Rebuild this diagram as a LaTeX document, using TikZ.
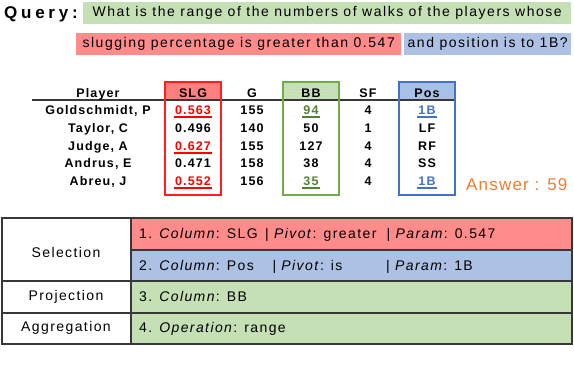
\documentclass[tikz,border=0pt]{standalone}
\usepackage{fontspec}
\usetikzlibrary{patterns}
\setmainfont{Liberation Sans}
\newfontfamily\qfont[LetterSpace=11]{Liberation Sans}
\newfontfamily\lfont[LetterSpace=22]{Liberation Sans}
\newfontfamily\tfont[LetterSpace=9]{Liberation Sans}
\newfontfamily\bfont[LetterSpace=10]{Liberation Sans}
\newfontfamily\afont[LetterSpace=7]{Liberation Sans}
\definecolor{qgreen}{HTML}{C5E0B4}
\definecolor{qred}{HTML}{FF8B8B}
\definecolor{qblue}{HTML}{ADC1E5}
\definecolor{slgred}{HTML}{FF1F1F}
\definecolor{slghead}{HTML}{FF7F7F}
\definecolor{bbgreen}{HTML}{70AD47}
\definecolor{posblue}{HTML}{4472C4}
\definecolor{poshead}{HTML}{A9C0E6}
\definecolor{valred}{HTML}{FF0000}
\definecolor{valgreen}{HTML}{548235}
\definecolor{ansorange}{HTML}{ED7D31}
\definecolor{gridgray}{HTML}{383838}
\begin{document}
\begin{tikzpicture}[x=1pt,y=-1pt,
  qbox/.style={minimum height=22, inner sep=0, font=\qfont\fontsize{14}{16}\selectfont},
  tcell/.style={anchor=base, inner sep=0, font=\tfont\bfseries\fontsize{12.5}{14}\selectfont},
  colbox/.style={line width=2.8},
  ul/.style={line width=1.5},
  lcell/.style={anchor=base, inner sep=0, font=\bfont\fontsize{14}{16}\selectfont},
  rcell/.style={anchor=base west, inner sep=0, font=\bfont\fontsize{14}{16}\selectfont},
  grid/.style={draw=gridgray, line width=1.3}]
\useasboundingbox (0,0) rectangle (574,380);
% query
\node[anchor=base west, inner sep=0, font=\lfont\bfseries\fontsize{17}{19}\selectfont] (qlabel) at (4,18) {Query:};
\node[qbox, fill=qgreen, minimum width=488, anchor=west] (q1) at (83,13) {What is the range of the numbers of walks of the players whose};
\node[qbox, fill=qred, minimum width=325, anchor=west] (q2) at (76,44) {slugging percentage is greater than 0.547};
\node[qbox, fill=qblue, minimum width=167, anchor=west] (q3) at (404,44) {and position is to 1B?};
% column highlight boxes
\fill[slghead] (165,82) rectangle (221,100);
\fill[qgreen] (283,82) rectangle (339,100);
\fill[pattern=dots, pattern color=white!60!qgreen] (283,82) rectangle (339,100);
\fill[poshead] (399,82) rectangle (455,100);
\draw[gridgray, line width=1.2] (32,100) -- (455,100);
\draw[colbox, slgred] (165,82) rectangle (221,195);
\draw[colbox, bbgreen] (283,82) rectangle (339,195);
\draw[colbox, posblue] (399,82) rectangle (455,195);
% header
\node[tcell] (hp) at (98,97.5) {Player};
\node[tcell] (hs) at (193,97.5) {SLG};
\node[tcell] (hg) at (252,97.5) {G};
\node[tcell] (hb) at (311,97.5) {BB};
\node[tcell] (hf) at (368,97.5) {SF};
\node[tcell] (hpos) at (427,97.5) {Pos};
% row 1
\node[tcell] (p1) at (98,114.5) {Goldschmidt, P};
\node[tcell, text=valred] (s1) at (193,114.5) {0.563};
\node[tcell] (g1) at (252,114.5) {155};
\node[tcell, text=valgreen] (b1) at (311,114.5) {94};
\node[tcell] (f1) at (368,114.5) {4};
\node[tcell, text=posblue] (o1) at (427,114.5) {1B};
% row 2
\node[tcell] (p2) at (98,132.5) {Taylor, C};
\node[tcell] (s2) at (193,132.5) {0.496};
\node[tcell] (g2) at (252,132.5) {140};
\node[tcell] (b2) at (311,132.5) {50};
\node[tcell] (f2) at (368,132.5) {1};
\node[tcell] (o2) at (427,132.5) {LF};
% row 3
\node[tcell] (p3) at (98,150.5) {Judge, A};
\node[tcell, text=valred] (s3) at (193,150.5) {0.627};
\node[tcell] (g3) at (252,150.5) {155};
\node[tcell] (b3) at (311,150.5) {127};
\node[tcell] (f3) at (368,150.5) {4};
\node[tcell] (o3) at (427,150.5) {RF};
% row 4
\node[tcell] (p4) at (98,167.5) {Andrus, E};
\node[tcell] (s4) at (193,167.5) {0.471};
\node[tcell] (g4) at (252,167.5) {158};
\node[tcell] (b4) at (311,167.5) {38};
\node[tcell] (f4) at (368,167.5) {4};
\node[tcell] (o4) at (427,167.5) {SS};
% row 5
\node[tcell] (p5) at (98,185.5) {Abreu, J};
\node[tcell, text=valred] (s5) at (193,185.5) {0.552};
\node[tcell] (g5) at (252,185.5) {156};
\node[tcell, text=valgreen] (b5) at (311,185.5) {35};
\node[tcell] (f5) at (368,185.5) {4};
\node[tcell, text=posblue] (o5) at (427,185.5) {1B};
% underlines
\foreach \n/\c in {s1/valred,s3/valred,s5/valred,b1/valgreen,b5/valgreen,o1/posblue,o5/posblue}
  \draw[ul, \c] ([xshift=-1pt,yshift=-2.5pt]\n.base west) -- ([xshift=1pt,yshift=-2.5pt]\n.base east);
% answer
\node[anchor=base west, inner sep=0, text=ansorange, font=\afont\fontsize{17}{19}\selectfont] (ans) at (466,190) {Answer : 59};
% bottom table fills
\fill[qred] (131,218) rectangle (572,250);
\fill[qblue] (131,250) rectangle (572,281);
\fill[qgreen] (131,281) rectangle (572,344);
\draw[grid] (2,218) rectangle (572,344);
\draw[grid] (131,218) -- (131,344);
\draw[grid] (131,250) -- (572,250);
\draw[grid] (2,281) -- (572,281);
\draw[grid] (2,313) -- (572,313);
% labels
\node[lcell] (lsel) at (66,257.5) {Selection};
\node[lcell] (lpro) at (66,300.5) {Projection};
\node[lcell] (lagg) at (66,331.5) {Aggregation};
\node[rcell] (r1a) at (139,238) {1. \textit{Column}: SLG};
\node[rcell] (r1b) at (265,238) {| \textit{Pivot}: greater};
\node[rcell] (r1c) at (386.5,238) {| \textit{Param}: 0.547};
\node[rcell] (r2a) at (139,270) {2. \textit{Column}: Pos};
\node[rcell] (r2b) at (272.3,270) {| \textit{Pivot}: is};
\node[rcell] (r2c) at (386,270) {| \textit{Param}: 1B};
\node[rcell] (r3) at (139,301) {3. \textit{Column}: BB};
\node[rcell] (r4) at (139,332) {4. \textit{Operation}: range};
\end{tikzpicture}
\end{document}
